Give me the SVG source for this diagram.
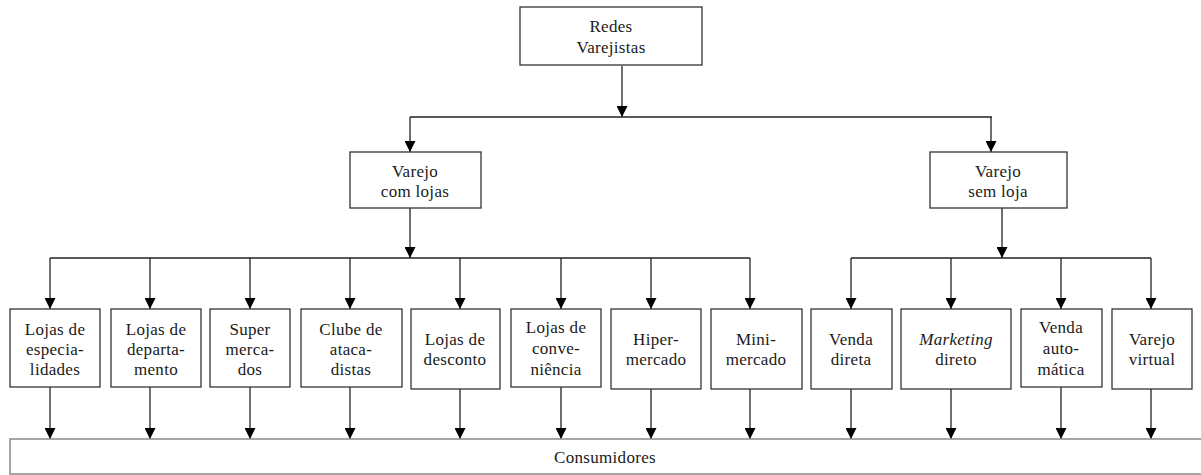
<svg xmlns="http://www.w3.org/2000/svg" width="1201" height="475" viewBox="0 0 1201 475">
<defs>
<marker id="arr" markerUnits="userSpaceOnUse" markerWidth="11" markerHeight="11" refX="11" refY="5.5" orient="auto">
<path d="M0,0 L11,5.5 L0,11 z" fill="#000"/>
</marker>
</defs>
<style>
rect.n{fill:#fff;stroke:#333;stroke-width:1.3}
rect.c{fill:#fff;stroke:#888;stroke-width:1.5}
text{font-family:"Liberation Serif","Times New Roman",serif;font-size:17px;letter-spacing:0.3px;fill:#1a1a1a;text-anchor:middle}
#connectors line{stroke:#222;stroke-width:1.3}
#connectors line.a{marker-end:url(#arr)}
</style>
<rect width="1201" height="475" fill="#fff"/>

<g id="connectors">
<line class="a" x1="622" y1="66" x2="622" y2="117"/>
<line x1="410" y1="117" x2="992" y2="117"/>
<line class="a" x1="410" y1="117" x2="410" y2="152"/>
<line class="a" x1="991" y1="117" x2="991" y2="152"/>
<line class="a" x1="410" y1="208" x2="410" y2="258"/>
<line x1="50" y1="258" x2="750" y2="258"/>
<line class="a" x1="1002" y1="208" x2="1002" y2="258"/>
<line x1="851" y1="258" x2="1151" y2="258"/>
<line class="a" x1="50" y1="258" x2="50" y2="309"/>
<line class="a" x1="150" y1="258" x2="150" y2="309"/>
<line class="a" x1="250" y1="258" x2="250" y2="309"/>
<line class="a" x1="350" y1="258" x2="350" y2="309"/>
<line class="a" x1="460" y1="258" x2="460" y2="309"/>
<line class="a" x1="561" y1="258" x2="561" y2="309"/>
<line class="a" x1="651" y1="258" x2="651" y2="309"/>
<line class="a" x1="750" y1="258" x2="750" y2="309"/>
<line class="a" x1="851" y1="258" x2="851" y2="309"/>
<line class="a" x1="951" y1="258" x2="951" y2="309"/>
<line class="a" x1="1061" y1="258" x2="1061" y2="309"/>
<line class="a" x1="1151" y1="258" x2="1151" y2="309"/>
<line class="a" x1="50" y1="387" x2="50" y2="439"/>
<line class="a" x1="150" y1="387" x2="150" y2="439"/>
<line class="a" x1="250" y1="387" x2="250" y2="439"/>
<line class="a" x1="350" y1="387" x2="350" y2="439"/>
<line class="a" x1="460" y1="389" x2="460" y2="439"/>
<line class="a" x1="561" y1="387" x2="561" y2="439"/>
<line class="a" x1="651" y1="389" x2="651" y2="439"/>
<line class="a" x1="750" y1="389" x2="750" y2="439"/>
<line class="a" x1="851" y1="389" x2="851" y2="439"/>
<line class="a" x1="951" y1="389" x2="951" y2="439"/>
<line class="a" x1="1061" y1="387" x2="1061" y2="439"/>
<line class="a" x1="1151" y1="389" x2="1151" y2="439"/>
</g>

<g id="redes"><rect class="n" x="520" y="7" width="182" height="58"/><text x="611" y="32">Redes</text><text x="611" y="53">Varejistas</text></g>
<g id="com-lojas"><rect class="n" x="350" y="152" width="131" height="56"/><text x="415" y="177">Varejo</text><text x="415" y="197">com lojas</text></g>
<g id="sem-loja"><rect class="n" x="930" y="152" width="137" height="56"/><text x="998" y="177">Varejo</text><text x="998" y="197">sem loja</text></g>

<g id="especialidades"><rect class="n" x="10" y="309" width="90" height="78"/><text x="55" y="335">Lojas de</text><text x="55" y="355">especia-</text><text x="55" y="375">lidades</text></g>
<g id="departamento"><rect class="n" x="111" y="309" width="90" height="78"/><text x="156" y="335">Lojas de</text><text x="156" y="355">departa-</text><text x="156" y="375">mento</text></g>
<g id="supermercados"><rect class="n" x="210" y="309" width="80" height="78"/><text x="250" y="335">Super</text><text x="250" y="355">merca-</text><text x="250" y="375">dos</text></g>
<g id="clube"><rect class="n" x="301" y="309" width="101" height="78"/><text x="351" y="335">Clube de</text><text x="351" y="355">ataca-</text><text x="351" y="375">distas</text></g>
<g id="desconto"><rect class="n" x="411" y="309" width="89" height="80"/><text x="455" y="345">Lojas de</text><text x="455" y="365">desconto</text></g>
<g id="conveniencia"><rect class="n" x="511" y="309" width="90" height="78"/><text x="556" y="333">Lojas de</text><text x="556" y="354">conve-</text><text x="556" y="375">niência</text></g>
<g id="hipermercado"><rect class="n" x="611" y="309" width="90" height="80"/><text x="656" y="345">Hiper-</text><text x="656" y="365">mercado</text></g>
<g id="minimercado"><rect class="n" x="711" y="309" width="91" height="80"/><text x="756" y="345">Mini-</text><text x="756" y="365">mercado</text></g>

<g id="venda-direta"><rect class="n" x="811" y="309" width="81" height="80"/><text x="851" y="345">Venda</text><text x="851" y="365">direta</text></g>
<g id="marketing-direto"><rect class="n" x="901" y="309" width="110" height="80"/><text x="956" y="345" font-style="italic">Marketing</text><text x="956" y="365">direto</text></g>
<g id="venda-automatica"><rect class="n" x="1021" y="309" width="81" height="78"/><text x="1061" y="333">Venda</text><text x="1061" y="354">auto-</text><text x="1061" y="375">mática</text></g>
<g id="varejo-virtual"><rect class="n" x="1112" y="309" width="80" height="80"/><text x="1152" y="345">Varejo</text><text x="1152" y="365">virtual</text></g>

<g id="consumidores"><rect class="c" x="10" y="439" width="1195" height="35"/><text x="605" y="463">Consumidores</text></g>
</svg>
